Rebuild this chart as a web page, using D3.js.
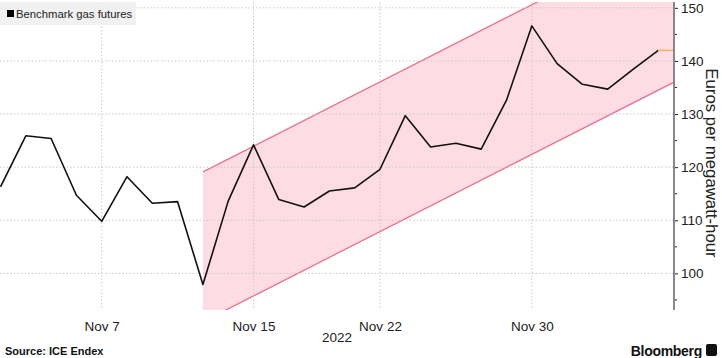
<!DOCTYPE html>
<html><head><meta charset="utf-8">
<script src="https://cdn.jsdelivr.net/npm/d3@7"></script>
<style>
body{margin:0;background:#fff;}
svg{display:block;font-family:"Liberation Sans",Arial,sans-serif;}
</style></head>
<body>
<svg id="c" width="722" height="358"></svg>
<script>
// trading days
const dates = ["Nov 1","Nov 2","Nov 3","Nov 4","Nov 7","Nov 8","Nov 9","Nov 10","Nov 11","Nov 14",
  "Nov 15","Nov 16","Nov 17","Nov 18","Nov 21","Nov 22","Nov 23","Nov 24","Nov 25","Nov 28",
  "Nov 29","Nov 30","Dec 1","Dec 2","Dec 5","Dec 6","Dec 7"];
const prices = [116.3,125.9,125.4,114.7,109.8,118.2,113.2,113.5,97.9,113.6,
  124.2,113.9,112.5,115.5,116.1,119.6,129.7,123.8,124.5,123.4,
  132.6,146.6,139.5,135.6,134.7,138.4,142.0];
const xTickLabels = ["Nov 7","Nov 15","Nov 22","Nov 30"];
const yTicks = [100,110,120,130,140,150];
const yMinorTicks = [95,105,115,125,135,145];
// trend channel: trading-day positions and values at both ends
const bandX = [8, 26.62];
const bandUpper = [119.1, 164.2];
const bandLower = [90.9, 136.0];
const yearLabel = "2022";

const svg = d3.select("#c");
const L = 0, R = 674, T = 2, B = 310;
const x = d3.scaleLinear().domain([0, 26.62]).range([0.5, R]);
const y = d3.scaleLinear().domain([93.1, 151.1]).range([B, T]);

svg.append("defs").append("clipPath").attr("id","clip")
  .append("rect").attr("x",L).attr("y",T).attr("width",R-L).attr("height",B-T);

// channel
const band = bandX.map((v,i)=>({x:v,u:bandUpper[i],l:bandLower[i]}));
const g = svg.append("g").attr("clip-path","url(#clip)");
g.append("path").datum(band)
  .attr("d", d3.area().x(d=>x(d.x)).y0(d=>y(d.l)).y1(d=>y(d.u)))
  .attr("fill","#fddde3");

// grid
const grid = svg.append("g");
yTicks.forEach(t=>{
  grid.append("line").attr("x1",L).attr("x2",R).attr("y1",y(t)).attr("y2",y(t))
    .attr("stroke","#c8c8c8").attr("stroke-width",1).attr("stroke-dasharray","1.5,2");
});
xTickLabels.forEach(lbl=>{
  const i = dates.indexOf(lbl);
  grid.append("line").attr("x1",x(i)).attr("x2",x(i)).attr("y1",T).attr("y2",B)
    .attr("stroke","#c8c8c8").attr("stroke-width",1).attr("stroke-dasharray","1.5,2");
});

// channel lines
g.append("path").datum(band).attr("fill","none").attr("stroke","#e8728c").attr("stroke-width",1.3)
  .attr("d", d3.line().x(d=>x(d.x)).y(d=>y(d.u)));
g.append("path").datum(band).attr("fill","none").attr("stroke","#e8728c").attr("stroke-width",1.3)
  .attr("d", d3.line().x(d=>x(d.x)).y(d=>y(d.l)));

// price line
svg.append("path").datum(prices).attr("fill","none").attr("stroke","#111")
  .attr("stroke-width",1.6).attr("stroke-linejoin","round")
  .attr("d", d3.line().x((d,i)=>x(i)).y(d=>y(d)));

// last value marker
const last = prices.length-1;
svg.append("line").attr("x1",x(last)).attr("x2",R).attr("y1",y(prices[last])).attr("y2",y(prices[last]))
  .attr("stroke","#f4b36b").attr("stroke-width",1.5);

// y axis
const ya = svg.append("g").attr("transform",`translate(${R},0)`)
  .call(d3.axisRight(y).tickValues(yTicks).tickSize(4).tickPadding(3));
ya.select(".domain").remove();
ya.selectAll("text").attr("font-size",13.5).attr("fill","#222").attr("font-family","Liberation Sans, Arial, sans-serif");
ya.selectAll(".tick line").attr("stroke","#222");
yMinorTicks.forEach(t=>{
  ya.append("line").attr("x1",0).attr("x2",3).attr("y1",y(t)).attr("y2",y(t)).attr("stroke","#222");
});
svg.append("line").attr("x1",R).attr("x2",R).attr("y1",T).attr("y2",B)
  .attr("stroke","#888").attr("stroke-width",2);

svg.append("text").attr("transform",`translate(711,163) rotate(90)`)
  .attr("text-anchor","middle").attr("dominant-baseline","central")
  .attr("font-size",16.8).attr("fill","#222")
  .text("Euros per megawatt-hour");

// x axis labels
const xa = svg.append("g").attr("transform",`translate(0,${B})`)
  .call(d3.axisBottom(x).tickValues(xTickLabels.map(l=>dates.indexOf(l)))
    .tickFormat(i=>dates[i]).tickSize(0).tickPadding(11));
xa.select(".domain").remove();
xa.selectAll("text").attr("font-size",13.5).attr("fill","#222").attr("font-family","Liberation Sans, Arial, sans-serif");

svg.append("text").attr("x",337).attr("y",342).attr("text-anchor","middle")
  .attr("font-size",13.5).attr("fill","#222").text(yearLabel);

// legend
svg.append("rect").attr("x",0).attr("y",2).attr("width",136).attr("height",23)
  .attr("fill","#eeeeee").attr("opacity",0.85);
svg.append("rect").attr("x",7).attr("y",10).attr("width",7).attr("height",7).attr("fill","#000");
svg.append("text").attr("x",16).attr("y",18).attr("font-size",11.3).attr("fill","#222")
  .text("Benchmark gas futures");

// footer
svg.append("text").attr("x",5).attr("y",355).attr("font-size",11).attr("font-weight","bold")
  .attr("fill","#111").text("Source: ICE Endex");
svg.append("text").attr("x",702).attr("y",356).attr("text-anchor","end").attr("font-size",14)
  .attr("font-weight","bold").attr("fill","#111").attr("letter-spacing","-0.3").text("Bloomberg");
svg.append("rect").attr("x",706).attr("y",344).attr("width",11).attr("height",12).attr("rx",2).attr("fill","#111");
</script>
</body></html>
